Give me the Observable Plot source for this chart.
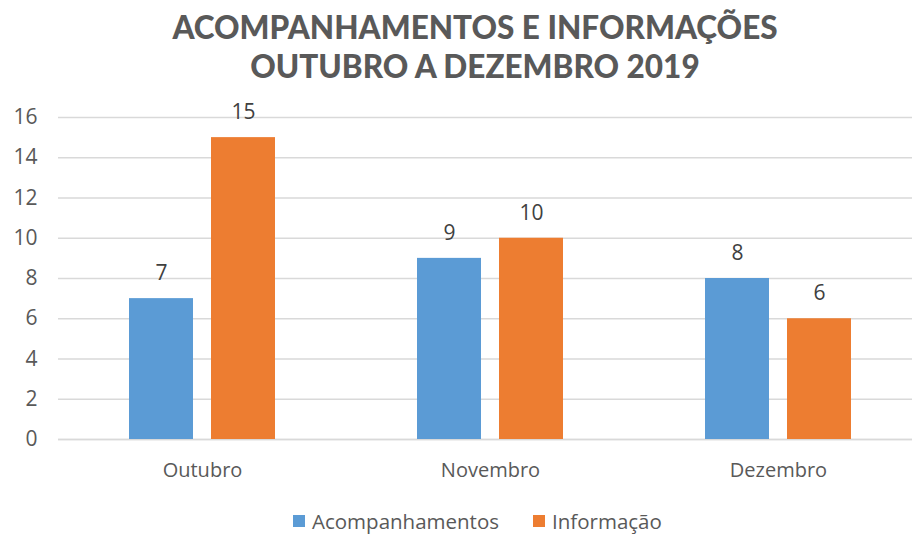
<!DOCTYPE html>
<html><head><meta charset="utf-8">
<script src="https://cdn.jsdelivr.net/npm/d3@7"></script>
<script src="https://cdn.jsdelivr.net/npm/@observablehq/plot@0.6"></script>
<style>
body{margin:0;background:#fff;width:912px;height:535px;overflow:hidden;font-family:"Open Sans",sans-serif;}
#title{height:90px;text-align:center;font-family:"Lato",sans-serif;font-weight:900;font-size:31.5px;color:#595959;line-height:39px;padding-top:8px;box-sizing:border-box;padding-left:38px;overflow:visible;}
#chart{height:410px;overflow:hidden;}
#legend{height:35px;position:relative;font-family:"Open Sans",sans-serif;font-size:20.5px;color:#595959;}
.item{position:absolute;top:7px;display:flex;align-items:center;}
.sw{width:12px;height:12px;margin-right:7px;}
</style>
</head><body>
<div id="title">ACOMPANHAMENTOS E INFORMAÇÕES<br>OUTUBRO A DEZEMBRO 2019</div>
<div id="chart"></div>
<div id="legend"></div>
<script>
const months = ["Outubro", "Novembro", "Dezembro"];
const series = ["Acompanhamentos", "Informação"];
const acompanhamentos = [7, 9, 8];
const informacao = [15, 10, 6];
const yTicks = [0, 2, 4, 6, 8, 10, 12, 14, 16];
const colors = ["#5B9BD5", "#ED7D31"];

const data = [];
months.forEach((m, i) => {
  data.push({month: m, series: series[0], value: acompanhamentos[i]});
  data.push({month: m, series: series[1], value: informacao[i]});
});

const chart = Plot.plot({
  width: 912,
  height: 410,
  marginLeft: 58,
  marginRight: -10,
  marginTop: 27,
  marginBottom: 61,
  style: {fontFamily: "'Open Sans', sans-serif", background: "#fff", overflow: "visible"},
  fx: {domain: months, padding: 0, label: null, axis: null},
  x: {domain: series, paddingInner: 0.22, paddingOuter: 0.866, axis: null},
  y: {domain: [0, 16], label: null, axis: null},
  color: {domain: series, range: colors},
  marks: [
    Plot.gridY(yTicks, {stroke: "#d9d9d9", strokeOpacity: 1, strokeWidth: 1.3}),
    Plot.ruleY([0], {stroke: "#d9d9d9", strokeWidth: 1.6}),
    Plot.barY(data, {fx: "month", x: "series", y: "value", fill: "series"}),
    Plot.text(data, {fx: "month", x: "series", y: "value", text: d => String(d.value), dy: -25, fontSize: 21, fill: "#404040"}),
    Plot.axisY(yTicks, {tickSize: 0, tickPadding: 21, fontSize: 21, color: "#595959", label: null}),
    Plot.axisFx({anchor: "bottom", tickSize: 0, tickPadding: 23, fontSize: 20, color: "#595959", label: null})
  ]
});
document.getElementById("chart").appendChild(chart);

const legend = document.getElementById("legend");
const lefts = [293, 533];
series.forEach((s, i) => {
  const it = document.createElement("div");
  it.className = "item";
  it.style.left = lefts[i] + "px";
  const sw = document.createElement("div");
  sw.className = "sw";
  sw.style.background = colors[i];
  const t = document.createElement("span");
  t.textContent = s;
  it.appendChild(sw); it.appendChild(t);
  legend.appendChild(it);
});
</script>
</body></html>
